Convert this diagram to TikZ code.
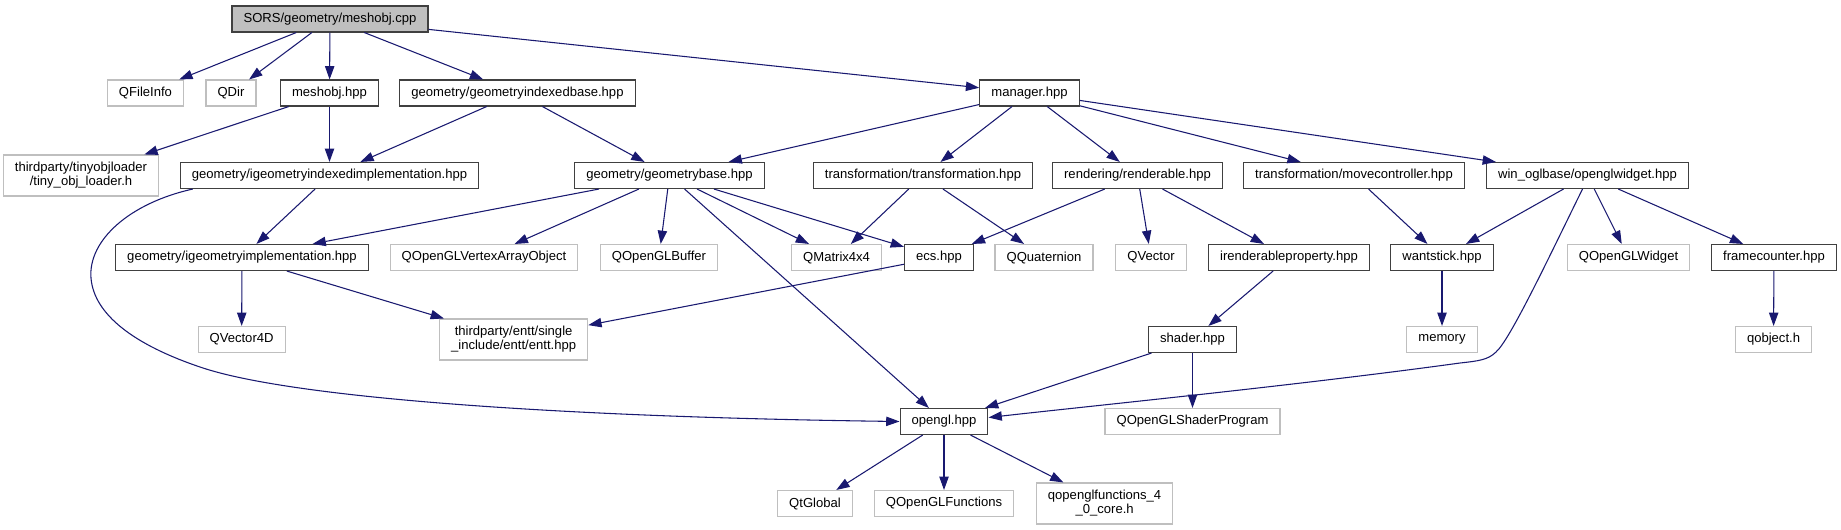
\documentclass[tikz,border=0pt]{standalone}
\usepackage{fontspec}
\setmainfont{Liberation Sans}
\usetikzlibrary{arrows.meta, calc}
\definecolor{cnavy}{HTML}{191970}
\definecolor{cdark}{HTML}{404040}
\definecolor{clight}{HTML}{BFBFBF}
\tikzset{
  every picture/.style={font=\fontsize{9.8}{10.5}\selectfont, line width=0.8pt},
  file/.style={draw=#1, rectangle, inner xsep=8.7pt, inner ysep=3pt, minimum height=19.5pt, align=center},
  file/.default=cdark,
  ext/.style={file=clight},
  twoline/.style={minimum height=30.75pt},
  arrow/.style={-{Triangle[length=10pt, width=7pt]}, draw=cnavy, line width=0.8pt},
}

\begin{document}
\begin{tikzpicture}[x=0.75pt, y=-0.75pt]
  \useasboundingbox (0,0) rectangle (1841,529);
  % the source file
  \node[file, fill=clight] (meshcpp) at (330,19) {SORS/geometry/meshobj.cpp};
  % first level
  \node[ext] (qfileinfo) at (145.5,93) {QFileInfo};
  \node[ext] (qdir) at (231,93) {QDir};
  \node[file] (meshobj) at (329.5,93) {meshobj.hpp};
  \node[file] (gidxbase) at (517.5,93) {geometry/geometryindexedbase.hpp};
  \node[file] (manager) at (1029.5,93) {manager.hpp};
  % second level
  \node[ext, twoline] (tinyobj) at (81,175.5) {thirdparty/tinyobjloader\\/tiny\_obj\_loader.h};
  \node[file] (gidximpl) at (329.5,175.5) {geometry/igeometryindexedimplementation.hpp};
  \node[file] (gbase) at (669.5,175.5) {geometry/geometrybase.hpp};
  \node[file] (transf) at (923,175.5) {transformation/transformation.hpp};
  \node[file] (renderable) at (1137.5,175.5) {rendering/renderable.hpp};
  \node[file] (movectl) at (1354,175.5) {transformation/movecontroller.hpp};
  \node[file] (oglwidget) at (1587.5,175.5) {win\_oglbase/openglwidget.hpp};
  % third level
  \node[file] (gimpl) at (242,257.5) {geometry/igeometryimplementation.hpp};
  \node[ext] (qvao) at (484,257.5) {QOpenGLVertexArrayObject};
  \node[ext] (qbuffer) at (659,257.5) {QOpenGLBuffer};
  \node[ext] (qmatrix) at (836.6,257.5) {QMatrix4x4};
  \node[file] (ecs) at (939,257.5) {ecs.hpp};
  \node[ext] (qquat) at (1044,257.5) {QQuaternion};
  \node[ext] (qvector) at (1151,257.5) {QVector};
  \node[file] (irprop) at (1289,257.5) {irenderableproperty.hpp};
  \node[file] (wantstick) at (1442,257.5) {wantstick.hpp};
  \node[ext] (qglwidget) at (1628.5,257.5) {QOpenGLWidget};
  \node[file] (framecnt) at (1774,257.5) {framecounter.hpp};
  % fourth level
  \node[ext] (qvec4d) at (241.6,339.5) {QVector4D};
  \node[ext, twoline] (entt) at (513.6,339.5) {thirdparty/entt/single\\\_include/entt/entt.hpp};
  \node[file] (shader) at (1192.5,339.5) {shader.hpp};
  \node[ext] (memory) at (1442,339.5) {memory};
  \node[ext] (qobject) at (1773.5,339.5) {qobject.h};
  % opengl and below
  \node[file] (opengl) at (944,421.5) {opengl.hpp};
  \node[ext] (qshaderprog) at (1192.5,421.5) {QOpenGLShaderProgram};
  \node[ext] (qtglobal) at (815,503.5) {QtGlobal};
  \node[ext] (qglfuncs) at (944,503.5) {QOpenGLFunctions};
  \node[ext, twoline] (qglcore) at (1104.6,503.5) {qopenglfunctions\_4\\\_0\_core.h};
  % includes
  \draw[arrow] (meshcpp) -- (qfileinfo);
  \draw[arrow] (meshcpp) -- (qdir);
  \draw[arrow] (meshcpp) -- (meshobj);
  \draw[arrow] (meshcpp) -- (gidxbase);
  \draw[arrow] (meshcpp) -- (manager);
  \draw[arrow] (meshobj) -- (tinyobj);
  \draw[arrow] (meshobj) -- (gidximpl);
  \draw[arrow] (gidxbase) -- (gidximpl);
  \draw[arrow] (gidxbase) -- (gbase);
  \draw[arrow] (manager) -- (gbase);
  \draw[arrow] (manager) -- (transf);
  \draw[arrow] (manager) -- (renderable);
  \draw[arrow] (manager) -- (movectl);
  \draw[arrow] (manager) -- (oglwidget);
  \draw[arrow] (gidximpl) -- (gimpl);
  \draw[arrow] ($(gidximpl.south west)+(13,0)$) .. controls (130,203) and (88,240) .. (91,278)
    .. controls (94,315) and (135,345) .. (200,367) .. controls (290,398) and (560,417) .. (opengl.west);
  \draw[arrow] (gbase) -- (gimpl);
  \draw[arrow] (gbase) -- (qvao);
  \draw[arrow] (gbase) -- (qbuffer);
  \draw[arrow] (gbase) -- (qmatrix);
  \draw[arrow] (gbase) -- (ecs);
  \draw[arrow] (gbase) -- (opengl);
  \draw[arrow] (transf) -- (qmatrix);
  \draw[arrow] (transf) -- (qquat);
  \draw[arrow] (renderable) -- (ecs);
  \draw[arrow] (renderable) -- (qvector);
  \draw[arrow] (renderable) -- (irprop);
  \draw[arrow] (movectl) -- (wantstick);
  \draw[arrow] (oglwidget) -- (wantstick);
  \draw[arrow] (oglwidget) -- (qglwidget);
  \draw[arrow] (oglwidget) -- (framecnt);
  \draw[arrow] ($(oglwidget.south)+(-5,0)$) .. controls (1550,255) and (1510,340) .. (1496,352)
    .. controls (1488,360) and (1478,361) .. (1460,363) .. controls (1300,385) and (1100,405) .. ($(opengl.east)+(0,-4)$);
  \draw[arrow] (gimpl) -- (qvec4d);
  \draw[arrow] (gimpl) -- (entt);
  \draw[arrow] (ecs) -- (entt);
  \draw[arrow] (irprop) -- (shader);
  \draw[arrow] (wantstick) -- (memory);
  \draw[arrow] (framecnt) -- (qobject);
  \draw[arrow] (shader) -- (opengl);
  \draw[arrow] (shader) -- (qshaderprog);
  \draw[arrow] (opengl) -- (qtglobal);
  \draw[arrow] (opengl) -- (qglfuncs);
  \draw[arrow] (opengl) -- (qglcore);
\end{tikzpicture}
\end{document}
